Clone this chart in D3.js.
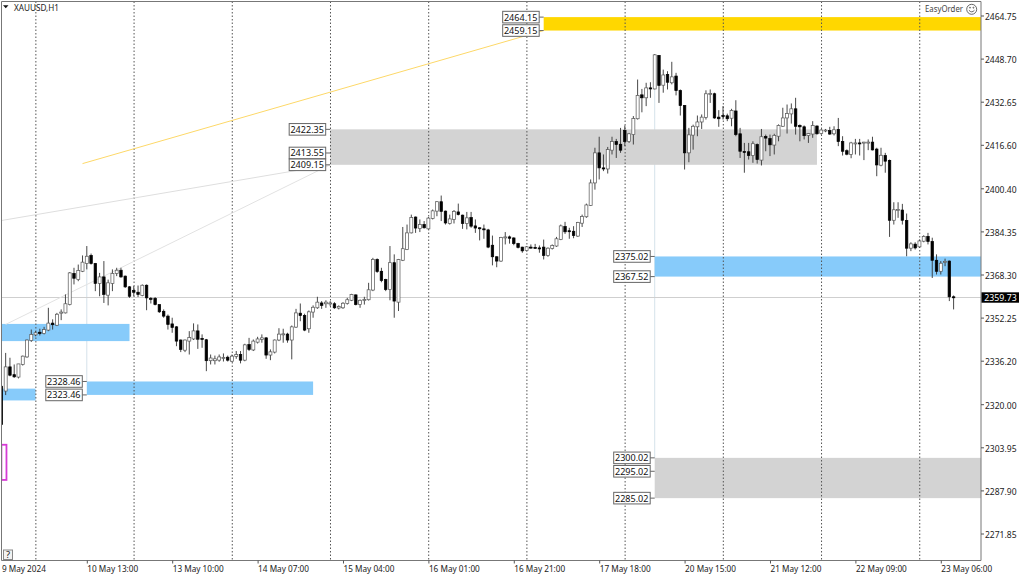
<!DOCTYPE html>
<html><head><meta charset="utf-8">
<script src="https://cdn.jsdelivr.net/npm/d3@7"></script>
<style>
html,body{margin:0;padding:0;background:#fff;width:1024px;height:576px;overflow:hidden}
text{font-family:"Noto Sans",sans-serif;font-size:9.3px;fill:#222}
</style></head><body><svg id="c" width="1024" height="576"></svg>
<script>
const symbol = "XAUUSD,H1", brand = "EasyOrder";
const open = [2326.7,2324.9,2333.9,2331.0,2330.1,2334.8,2337.6,2343.7,2345.8,2346.8,2346.3,2347.6,2350.2,2349.4,2353.9,2354.0,2357.1,2368.7,2366.4,2369.5,
2372.4,2375.4,2372.4,2365.0,2367.4,2360.6,2365.0,2368.7,2369.9,2367.7,2363.7,2362.4,2361.7,2360.5,2364.3,2359.4,2359.4,2357.1,2354.6,2352.8,
2349.9,2348.8,2343.9,2340.1,2343.5,2344.3,2347.3,2344.5,2344.0,2336.2,2336.2,2336.4,2337.2,2337.5,2336.0,2337.8,2338.5,2336.4,2342.2,2340.2,
2343.1,2344.1,2344.7,2338.3,2339.4,2343.9,2346.0,2346.1,2343.9,2348.7,2353.9,2353.0,2348.1,2354.3,2355.9,2357.7,2357.4,2357.5,2357.4,2355.8,
2355.9,2357.5,2358.7,2360.7,2357.1,2358.7,2358.9,2362.5,2373.9,2369.5,2366.4,2362.7,2372.7,2358.0,2373.6,2377.6,2383.8,2389.7,2385.4,2386.9,
2385.3,2389.2,2391.9,2395.4,2391.9,2387.3,2388.8,2391.6,2390.4,2387.3,2389.5,2386.4,2385.7,2385.3,2384.9,2379.2,2374.9,2373.3,2382.1,2382.3,
2381.9,2379.8,2378.5,2377.2,2378.5,2378.4,2378.2,2378.5,2375.4,2378.0,2378.9,2381.3,2386.2,2384.6,2384.4,2382.6,2387.4,2389.8,2394.0,2402.4,
2413.6,2408.0,2407.6,2414.6,2417.8,2416.8,2422.0,2417.8,2420.4,2426.3,2435.2,2434.1,2437.8,2437.4,2449.9,2438.8,2442.8,2439.7,2442.2,2436.8,
2431.2,2413.6,2420.2,2423.3,2425.1,2426.8,2435.6,2435.6,2426.9,2427.5,2427.4,2426.5,2429.2,2420.7,2414.1,2414.0,2412.6,2416.7,2410.9,2419.7,
2418.9,2416.5,2419.8,2423.5,2426.6,2428.1,2430.0,2423.8,2423.3,2420.1,2420.6,2423.6,2420.8,2421.9,2421.9,2420.7,2422.3,2417.8,2414.4,2413.0,
2417.1,2417.3,2417.4,2417.4,2417.6,2415.0,2409.0,2412.6,2410.8,2388.5,2392.4,2392.3,2388.4,2378.1,2379.6,2378.6,2380.7,2382.5,2380.6,2373.6,
2369.5,2372.9,2373.3,2360.0];
const high = [2327.2,2339.1,2337.3,2334.8,2335.0,2338.1,2344.1,2347.8,2347.2,2348.1,2348.8,2355.9,2351.6,2354.0,2355.3,2360.9,2369.2,2370.8,2372.0,2375.4,
2378.9,2376.1,2372.6,2368.9,2373.3,2366.4,2370.2,2370.8,2370.8,2367.9,2364.0,2364.0,2364.2,2364.6,2364.6,2359.9,2359.9,2357.1,2355.3,2353.4,
2352.2,2349.1,2344.1,2344.1,2347.2,2350.1,2349.7,2346.0,2344.3,2338.5,2338.1,2338.5,2338.9,2338.1,2338.5,2339.8,2339.8,2342.5,2344.7,2344.1,
2345.1,2346.0,2345.0,2340.4,2344.1,2348.3,2348.1,2346.6,2349.3,2355.5,2357.5,2353.7,2354.9,2356.8,2360.0,2358.4,2358.7,2358.4,2358.0,2356.8,
2358.0,2359.6,2361.1,2360.9,2359.0,2360.0,2365.2,2374.5,2374.3,2370.8,2366.7,2378.9,2375.8,2374.1,2386.0,2386.9,2390.6,2389.9,2388.8,2388.2,
2389.7,2392.5,2395.6,2397.7,2392.1,2390.6,2392.3,2394.7,2390.6,2391.6,2391.6,2388.8,2385.9,2386.9,2385.3,2382.8,2375.1,2382.3,2384.1,2382.8,
2382.2,2380.1,2378.6,2378.9,2379.5,2379.7,2379.1,2381.3,2378.4,2379.5,2382.3,2386.9,2387.9,2385.7,2386.3,2387.9,2390.6,2394.7,2403.7,2415.5,
2419.6,2413.0,2415.8,2419.6,2418.8,2422.9,2423.8,2421.0,2427.3,2440.9,2437.4,2439.7,2439.9,2450.4,2450.0,2444.6,2444.0,2447.5,2443.4,2437.2,
2431.4,2422.9,2424.1,2427.5,2427.9,2436.9,2437.2,2436.0,2429.5,2431.0,2428.2,2430.0,2433.2,2422.9,2417.3,2417.3,2417.9,2417.1,2422.5,2420.4,
2420.4,2420.7,2424.2,2430.4,2431.6,2432.0,2434.1,2424.2,2423.8,2421.0,2425.4,2423.8,2422.5,2422.5,2423.3,2423.5,2426.6,2419.8,2414.9,2417.7,
2418.8,2418.8,2417.7,2418.6,2419.6,2415.5,2415.5,2413.6,2411.1,2395.2,2395.2,2394.6,2391.0,2380.3,2380.3,2381.3,2382.9,2383.8,2382.0,2375.8,
2373.3,2374.2,2373.5,2360.5];
const low = [2312.0,2323.4,2330.4,2329.8,2329.6,2334.4,2337.3,2343.2,2345.3,2345.6,2346.0,2347.2,2347.8,2349.1,2351.3,2353.8,2356.8,2364.6,2365.8,2369.2,
2370.2,2372.0,2362.1,2360.2,2357.7,2356.8,2362.1,2367.7,2367.1,2363.3,2359.6,2360.2,2359.9,2360.2,2355.0,2357.5,2356.8,2354.0,2352.2,2347.8,
2346.6,2341.6,2339.4,2339.4,2338.5,2343.9,2340.6,2341.0,2332.3,2334.8,2334.8,2335.8,2335.9,2335.9,2335.7,2336.9,2335.2,2336.0,2339.8,2339.8,
2342.6,2342.9,2336.9,2336.4,2338.9,2343.5,2342.9,2342.9,2336.7,2348.4,2350.9,2347.2,2346.6,2352.2,2355.5,2355.5,2355.9,2356.5,2355.5,2355.3,
2355.5,2357.1,2358.4,2356.8,2355.9,2357.1,2358.6,2362.1,2368.9,2365.4,2362.1,2358.7,2352.2,2354.7,2373.3,2377.4,2383.6,2383.8,2384.1,2385.4,
2385.1,2388.8,2390.0,2388.2,2386.9,2386.9,2387.3,2390.3,2385.3,2385.1,2385.7,2383.8,2381.0,2381.6,2378.1,2371.7,2371.0,2373.0,2379.5,2379.8,
2379.2,2378.0,2376.4,2376.9,2377.9,2377.9,2376.4,2373.9,2374.9,2377.6,2378.6,2381.1,2383.4,2381.6,2381.8,2382.3,2386.0,2389.4,2393.8,2399.9,
2403.7,2406.8,2405.9,2413.0,2411.7,2413.6,2416.1,2417.3,2416.7,2426.0,2428.7,2431.0,2434.1,2437.2,2432.2,2436.0,2437.2,2439.1,2435.0,2427.5,
2407.4,2410.1,2414.8,2419.8,2422.5,2426.0,2432.2,2426.3,2423.3,2426.0,2425.4,2423.5,2419.8,2411.7,2406.2,2411.1,2409.9,2409.6,2408.9,2414.2,
2412.4,2413.0,2417.9,2423.3,2420.8,2424.5,2420.4,2417.9,2418.6,2417.3,2419.2,2420.4,2420.4,2421.3,2420.3,2420.1,2416.1,2412.6,2412.7,2411.6,
2413.0,2412.6,2410.9,2414.6,2414.5,2404.9,2408.6,2406.2,2382.3,2386.9,2389.4,2386.9,2375.1,2377.0,2377.6,2378.2,2380.3,2379.5,2367.0,2368.3,
2368.3,2371.4,2358.4,2355.3];
const close = [2312.4,2333.9,2330.8,2330.2,2335.0,2337.9,2343.9,2346.0,2346.6,2346.3,2347.8,2350.2,2349.6,2353.5,2354.3,2357.4,2368.9,2366.9,2369.8,2372.9,
2375.1,2372.4,2365.0,2367.4,2360.9,2365.2,2368.7,2369.9,2367.4,2363.7,2360.2,2361.7,2360.9,2364.3,2359.6,2359.1,2357.1,2354.4,2352.8,2349.7,
2348.6,2343.5,2340.4,2343.9,2344.8,2347.3,2344.2,2344.1,2336.2,2337.2,2336.9,2337.6,2337.4,2336.4,2337.9,2338.5,2336.4,2342.1,2340.4,2343.5,
2344.3,2344.7,2338.3,2339.5,2343.9,2346.1,2346.2,2343.9,2348.8,2354.0,2353.0,2347.6,2354.4,2356.1,2358.0,2356.8,2358.0,2357.7,2355.9,2356.4,
2357.6,2358.9,2360.9,2357.1,2358.7,2359.0,2362.6,2373.9,2369.4,2366.1,2362.7,2372.7,2358.4,2373.9,2377.9,2383.8,2389.5,2385.6,2386.9,2385.7,
2389.3,2392.0,2395.4,2391.8,2387.5,2389.0,2391.8,2390.6,2387.3,2389.4,2386.3,2385.6,2385.4,2385.1,2378.5,2374.9,2373.3,2382.1,2382.3,2381.8,
2379.8,2378.4,2377.1,2378.6,2378.2,2378.2,2378.1,2375.4,2378.1,2379.1,2381.6,2386.4,2384.2,2384.4,2382.8,2387.7,2389.9,2394.2,2402.4,2413.6,
2408.0,2407.6,2414.8,2417.8,2416.7,2414.6,2417.8,2420.7,2426.4,2435.0,2434.1,2437.8,2437.4,2450.1,2438.7,2442.6,2439.9,2441.9,2436.8,2431.2,
2413.6,2420.3,2423.5,2425.1,2426.9,2435.6,2435.7,2426.6,2426.3,2427.1,2426.3,2429.4,2420.4,2414.2,2413.8,2412.6,2417.0,2411.1,2419.6,2419.1,
2416.6,2420.1,2423.8,2426.6,2428.2,2430.0,2423.5,2423.3,2420.0,2420.8,2423.8,2420.7,2422.1,2422.1,2420.6,2422.2,2417.8,2414.2,2413.1,2417.3,
2417.3,2417.1,2417.6,2417.6,2414.7,2409.1,2412.7,2410.5,2388.5,2392.4,2392.5,2388.5,2378.1,2379.7,2378.2,2380.8,2382.5,2380.6,2373.6,2369.5,
2372.5,2373.2,2360.0,2359.73];
const lastPrice = 2359.73;
const priceTicks = [2464.75,2448.70,2432.65,2416.60,2400.40,2384.35,2368.30,2352.25,2336.20,2320.00,2303.95,2287.90,2271.85];
const timeTickBars = [0,20,40,60,80,100,120,140,160,180,200,220];
const timeTickLabels = ["9 May 2024","10 May 13:00","13 May 10:00","14 May 07:00","15 May 04:00","16 May 01:00","16 May 21:00","17 May 18:00","20 May 15:00","21 May 12:00","22 May 09:00","23 May 06:00"];
const daySeparatorBars = [8,31,54,77,100,123,146,169,192,215];
const zoneFromBar = [0,0,20,153,77,127,153];
const zoneToBar = [30,8,73,230,191,230,230];
const zoneHigh = [2349.9,2325.8,2328.46,2375.02,2422.35,2464.15,2300.02];
const zoneLow = [2343.5,2321.4,2323.46,2367.52,2409.15,2459.15,2285.02];
const zoneColor = ["#87cbfa","#87cbfa","#87cbfa","#87cbfa","#d3d3d3","#ffd700","#d3d3d3"];
const levelPrice = [2464.15,2459.15,2422.35,2413.55,2409.15,2375.02,2367.52,2328.46,2323.46,2300.02,2295.02,2285.02];
const levelBar = [127,127,77,77,77,153,153,20,20,153,153,153];
const trendFromBar = [19,0,1], trendFromPrice = [2409.6,2388.4,2349.7];
const trendToBar = [127,77,77], trendToPrice = [2459.15,2409.15,2409.15];
const trendColor = ["#fdd868","#dedede","#e2e2e2"];
const guideBar = [20,153], guideHigh = [2372,2437], guideLow = [2328.46,2300.02];
const magentaBars = [0,1], magentaPrices = [2304.9,2291.8];

const L=1.5,R=981,T=1.5,B=560.5;
const svg=d3.select("#c");
const x=d3.scaleLinear().domain([0,223]).range([1.4,953.6]);
const y=d3.scaleLinear().domain([2464.75,2271.85]).range([15.5,533.5]);
svg.append("clipPath").attr("id","plot").append("rect").attr("x",L).attr("y",T).attr("width",R-L).attr("height",B-T);
const g=svg.append("g").attr("clip-path","url(#plot)");

g.selectAll(".guide").data(guideBar).join("line").attr("x1",d=>x(d)).attr("x2",d=>x(d))
 .attr("y1",(d,i)=>y(guideHigh[i])).attr("y2",(d,i)=>y(guideLow[i])).attr("stroke","#d5e2ea").attr("stroke-width",1);
g.selectAll(".zone").data(zoneHigh).join("rect")
 .attr("x",(d,i)=>x(zoneFromBar[i])).attr("width",(d,i)=>x(zoneToBar[i])-x(zoneFromBar[i]))
 .attr("y",d=>y(d)).attr("height",(d,i)=>y(zoneLow[i])-y(d)).attr("fill",(d,i)=>zoneColor[i]);
g.append("line").attr("x1",L).attr("x2",R).attr("y1",y(lastPrice)).attr("y2",y(lastPrice)).attr("stroke","#cfcfcf");
g.selectAll(".sep").data(daySeparatorBars).join("line").attr("x1",d=>x(d)+0.3).attr("x2",d=>x(d)+0.3).attr("y1",T).attr("y2",B)
 .attr("stroke","#555").attr("stroke-dasharray","1.5 2").attr("stroke-width",1);
g.selectAll(".trend").data(trendFromBar).join("line")
 .attr("x1",d=>x(d)).attr("y1",(d,i)=>y(trendFromPrice[i])).attr("x2",(d,i)=>x(trendToBar[i])).attr("y2",(d,i)=>y(trendToPrice[i]))
 .attr("stroke",(d,i)=>trendColor[i]).attr("stroke-width",1);
g.append("rect").attr("x",x(magentaBars[0])).attr("width",x(magentaBars[1])-x(magentaBars[0])+0.8)
 .attr("y",y(magentaPrices[0])).attr("height",y(magentaPrices[1])-y(magentaPrices[0]))
 .attr("fill","none").attr("stroke","#d63ad6").attr("stroke-width",1.8);
const bars=g.selectAll(".bar").data(d3.range(open.length)).join("g");
bars.append("line").attr("x1",i=>x(i)).attr("x2",i=>x(i)).attr("y1",i=>y(high[i])).attr("y2",i=>y(low[i])).attr("stroke","#333").attr("stroke-width",0.9);
bars.append("rect").attr("x",i=>x(i)-(close[i]<open[i]?1.25:1.5)).attr("width",i=>close[i]<open[i]?2.5:3)
 .attr("y",i=>y(Math.max(open[i],close[i])))
 .attr("height",i=>Math.max(1,Math.abs(y(open[i])-y(close[i]))))
 .attr("fill",i=>close[i]<open[i]?"#000":"#fff").attr("stroke",i=>close[i]<open[i]?"#000":"#555").attr("stroke-width",0.7);

svg.append("path").attr("d",`M${L},${B}V${T}H${R}V${B}H${L}`).attr("fill","none").attr("stroke","#777");
const ay=svg.append("g").attr("transform",`translate(${R},0)`).call(d3.axisRight(y).tickValues(priceTicks).tickSize(3).tickFormat(d3.format(".2f")));
ay.select(".domain").remove();ay.selectAll("line").attr("stroke","#555");
ay.selectAll("text").attr("x",4.3).attr("dy","0.42em").attr("transform","scale(0.92,1)").style("font-family",'"Noto Sans",sans-serif').style("font-size","9.3px").attr("fill","#222");
const ax=svg.append("g").attr("transform",`translate(0,${B})`).call(d3.axisBottom(x).tickValues(timeTickBars).tickSize(3).tickPadding(2).tickFormat((d,i)=>timeTickLabels[i]));
ax.select(".domain").remove();ax.selectAll("line").attr("stroke","#555");
ax.selectAll("text").attr("text-anchor","start").attr("transform","scale(0.885,1)").style("font-family",'"Noto Sans",sans-serif').style("font-size","9.3px").attr("fill","#222");
ax.selectAll(".tick").filter((d,i)=>i===0).select("line").remove();

const lv=svg.selectAll(".lv").data(levelPrice).join("g").attr("transform",(d,i)=>`translate(${x(levelBar[i])},${y(d)})`);
lv.append("line").attr("x1",-5).attr("x2",0).attr("stroke","#666");
lv.append("rect").attr("x",-41).attr("y",-5.8).attr("width",36.5).attr("height",11.6).attr("fill","#fff").attr("fill-opacity",0.85).attr("stroke","#666");
lv.append("text").attr("x",-23).attr("y",3.5).attr("text-anchor","middle").attr("textLength",33.5).attr("lengthAdjust","spacingAndGlyphs").style("font-size","9.8px").style("fill","#111").text(d=>d.toFixed(2));

svg.append("rect").attr("x",981.5).attr("y",y(lastPrice)-5.2).attr("width",37.5).attr("height",10.4).attr("fill","#000");
svg.append("text").attr("x",984.3).attr("y",y(lastPrice)+3.3).attr("textLength",32.4).attr("lengthAdjust","spacingAndGlyphs").style("fill","#fff").text(lastPrice.toFixed(2));

svg.append("path").attr("d","M3,5.2H8.5L5.75,8.2Z").attr("fill","#111");
svg.append("text").attr("x",14).attr("y",11).attr("textLength",45).attr("lengthAdjust","spacingAndGlyphs").text(symbol);
svg.append("text").attr("x",925).attr("y",11.5).attr("textLength",38).attr("lengthAdjust","spacingAndGlyphs").style("fill","#444").text(brand);
const sm=svg.append("g").attr("transform","translate(971.7,9.3)").attr("fill","none").attr("stroke","#555").attr("stroke-width",0.9);
sm.append("circle").attr("r",5);
sm.append("path").attr("d","M-2.8,0.9Q0,4.2 2.8,0.9");
sm.append("circle").attr("cx",-1.7).attr("cy",-1.6).attr("r",0.5);
sm.append("circle").attr("cx",1.7).attr("cy",-1.6).attr("r",0.5);
svg.append("rect").attr("x",3.5).attr("y",550).attr("width",9).attr("height",9.5).attr("fill","#f2f2f2").attr("stroke","#888");
svg.append("text").attr("x",8).attr("y",558).attr("text-anchor","middle").text("?");
</script></body></html>
